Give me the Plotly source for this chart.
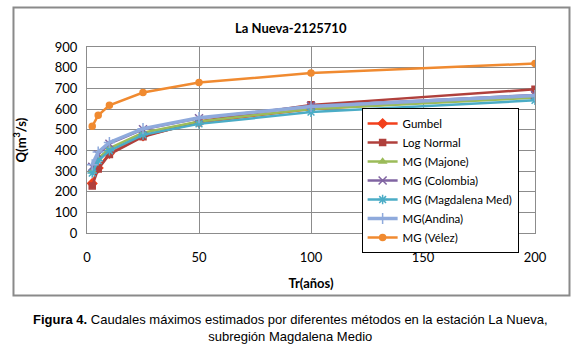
import plotly.graph_objects as go

tr = [2.33, 5, 10, 25, 50, 100, 200]
gumbel = [240, 315, 385, 470, 535, 600, 662]
lognormal = [228, 310, 380, 466, 540, 620, 695]
majone = [300, 360, 410, 485, 540, 600, 655]
colombia = [320, 380, 432, 502, 555, 615, 668]
magdalena = [290, 350, 398, 475, 528, 585, 642]
andina = [330, 392, 438, 505, 558, 612, 665]
velez = [516, 570, 618, 680, 728, 774, 820]

names = ["Gumbel", "Log Normal", "MG (Majone)", "MG (Colombia)",
         "MG (Magdalena Med)", "MG(Andina)", "MG (Vélez)"]
series = [gumbel, lognormal, majone, colombia, magdalena, andina, velez]
colors = ["#F2401C", "#B0403C", "#9BBB59", "#8064A2", "#4BACC6", "#8FAADC", "#F08A30"]
symbols = ["diamond", "square", "triangle-up", "x-thin-open", "asterisk-open",
           "cross-thin-open", "circle"]
sizes = [7, 6, 6, 8, 8, 8, 6]
widths = [2.5, 2.5, 2.5, 2.5, 2.5, 3.5, 2.5]

fig = go.Figure()
for i in range(7):
    fig.add_trace(go.Scatter(
        x=tr, y=series[i], name=names[i], mode="lines+markers",
        line=dict(color=colors[i], width=widths[i]),
        marker=dict(symbol=symbols[i], size=sizes[i], color=colors[i],
                    line=dict(color=colors[i], width=1.5)),
    ))

font_chart = "Lato, Carlito, Liberation Sans, sans-serif"
fig.update_layout(
    width=580, height=344,
    margin=dict(l=87, r=45, t=47, b=111),
    paper_bgcolor="white", plot_bgcolor="white",
    font=dict(family=font_chart, size=13, color="#000"),
    showlegend=True,
    legend=dict(x=0.613, y=0.672, xanchor="left", yanchor="top",
                bordercolor="#000", borderwidth=1, bgcolor="white",
                font=dict(size=11.5, family=font_chart), tracegroupgap=0,
                itemwidth=30),
    xaxis=dict(range=[0, 200], tickvals=[0, 50, 100, 150, 200],
               showgrid=True, gridcolor="#8c8c8c", gridwidth=1,
               zeroline=False, showline=True, linecolor="#8c8c8c", mirror=True,
               ticks="", tickfont=dict(size=13), ticklabelstandoff=12,
               title=dict(text="<b>Tr(años)</b>", font=dict(size=13), standoff=15)),
    yaxis=dict(range=[0, 900], tickvals=list(range(0, 901, 100)),
               showgrid=True, gridcolor="#8c8c8c", gridwidth=1,
               zeroline=False, showline=True, linecolor="#8c8c8c", mirror=True,
               ticks="", tickfont=dict(size=13), ticklabelstandoff=6,
               title=dict(text="<b>Q(m<sup>3</sup>/s)</b>", font=dict(size=13), standoff=25)),
    shapes=[dict(type="rect", xref="paper", yref="paper",
                 x0=-0.1641, x1=1.0770, y0=-0.3360, y1=1.2124,
                 line=dict(color="#8a8a8a", width=2))],
)

fig.add_annotation(text="<b>La Nueva-2125710</b>", xref="paper", yref="paper",
                   x=0.455, y=1.102, showarrow=False, font=dict(size=13), yanchor="middle")

fig.add_annotation(
    text="<b>Figura 4.</b> Caudales máximos estimados por diferentes métodos en la estación La Nueva,<br>subregión Magdalena Medio",
    xref="paper", yref="paper", x=0.455, y=-0.414, yanchor="top",
    showarrow=False, align="center",
    font=dict(family="Liberation Sans, Arial, sans-serif", size=13))

fig.write_html("out.html", config={"displayModeBar": False},
               post_script="document.body.style.margin='0';")
